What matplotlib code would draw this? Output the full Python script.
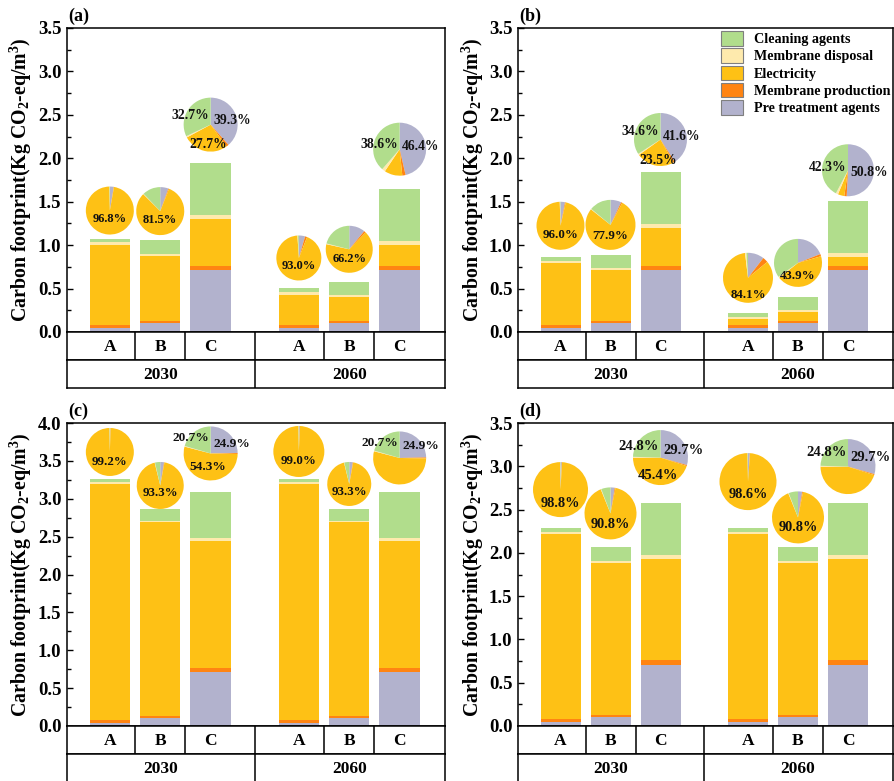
import numpy as np
import matplotlib.pyplot as plt
from matplotlib.patches import Patch
from matplotlib.ticker import MultipleLocator, FormatStrFormatter

plt.rcParams['font.family'] = ['Liberation Serif', 'DejaVu Serif']
plt.rcParams['font.weight'] = 'bold'
plt.rcParams['mathtext.fontset'] = 'custom'
plt.rcParams['mathtext.rm'] = 'Liberation Serif:bold'
plt.rcParams['mathtext.it'] = 'Liberation Serif:italic:bold'
plt.rcParams['mathtext.bf'] = 'Liberation Serif:bold'

# ---- data ----
categories = ['A', 'B', 'C', 'A', 'B', 'C']
years = ['2030', '2060']
sources = ['Pre treatment agents', 'Membrane production', 'Electricity',
           'Membrane disposal', 'Cleaning agents']
colors = ['#B2B2CD', '#FF8412', '#FEC115', '#FEEAAD', '#B1DD8C']

# components that do not change between scenarios (A, B, C)
pre_treatment = [0.045, 0.10, 0.71]
membrane_production = [0.04, 0.03, 0.05]
membrane_disposal = [0.026, 0.023, 0.045]
cleaning_agents = [0.045, 0.155, 0.60]

# electricity per panel (2030 A,B,C then 2060 A,B,C)
elec_a = [0.92, 0.75, 0.545, 0.345, 0.27, 0.245]
elec_b = [0.71, 0.58, 0.437, 0.065, 0.096, 0.10]
elec_c = [3.105, 2.557, 1.678, 3.105, 2.557, 1.678]
elec_d = [2.13, 1.755, 1.17, 2.13, 1.755, 1.17]

# pie shares in % : pre, production, electricity, disposal, cleaning
pie_a = [[2.6, 0.2, 96.8, 0.1, 0.3], [5.5, 0.5, 81.5, 0.3, 12.2],
         [39.3, 1.5, 27.7, 0.8, 32.7], [4.5, 1.5, 93.0, 0.3, 0.7],
         [11.0, 1.3, 66.2, 0.5, 21.0], [46.4, 2.0, 11.0, 2.0, 38.6]]
pie_b = [[3.0, 0.5, 96.0, 0.2, 0.3], [7.0, 0.8, 77.9, 0.3, 14.0],
         [41.6, 1.0, 23.5, 0.8, 34.6], [10.5, 3.5, 84.1, 0.9, 1.0],
         [19.0, 1.5, 43.9, 0.8, 34.8], [50.8, 1.5, 4.0, 1.4, 42.3]]
pie_c = [[0.4, 0.1, 99.2, 0.1, 0.2], [2.6, 0.3, 93.3, 0.2, 3.6],
         [24.9, 0.6, 54.3, 0.4, 20.7], [0.6, 0.1, 99.0, 0.1, 0.2],
         [2.6, 0.3, 93.3, 0.2, 3.6], [24.9, 0.6, 54.3, 0.4, 20.7]]
pie_d = [[0.8, 0.1, 98.8, 0.1, 0.2], [2.6, 0.5, 90.8, 0.3, 5.8],
         [29.7, 0.6, 45.4, 0.5, 24.8], [1.0, 0.1, 98.6, 0.1, 0.2],
         [2.6, 0.5, 90.8, 0.3, 5.8], [29.7, 0.6, 45.4, 0.5, 24.8]]

# ---- layout ----
W, H = 894, 781
xpos = np.array([1, 2, 3, 4.75, 5.75, 6.75])
panels = [
    dict(tag='(a)', box=(67, 28, 445, 332), elec=elec_a, ymax=3.5, pies=pie_a,
         diam=[48, 48, 54, 45, 47, 53], gap=[4, 5, 11, 8, 9, 13],
         ab_dy=[-0.35, -0.35, -0.74, -0.36, -0.4, None], c_dy=[(0.32, 0.15), (0.17, 0.10)],
         fs_ab=9.0, fs_c=9.8),
    dict(tag='(b)', box=(518, 28, 893, 332), elec=elec_b, ymax=3.5, pies=pie_b,
         diam=[48, 50, 53, 50, 48, 52], gap=[7, 5, 6, 10, 10, 5],
         ab_dy=[-0.37, -0.45, -0.78, -0.68, -0.53, None], c_dy=[(0.29, 0.10), (0.12, -0.10)],
         fs_ab=9.3, fs_c=9.8),
    dict(tag='(c)', box=(67, 423, 445, 726), elec=elec_c, ymax=4.0, pies=pie_c,
         diam=[48, 47, 54, 51, 44, 53], gap=[3, 0, 12, 2, 3, 8],
         ab_dy=[-0.4, -0.34, -0.5, -0.38, -0.36, None], c_dy=[(0.58, 0.36), (0.56, 0.44)],
         fs_ab=9.3, fs_c=9.6),
    dict(tag='(d)', box=(518, 423, 893, 726), elec=elec_d, ymax=3.5, pies=pie_d,
         diam=[55, 52, 55, 57, 52, 55], gap=[11, 8, 18, 18, 4, 9],
         ab_dy=[-0.5, -0.42, -0.64, -0.47, -0.39, None], c_dy=[(0.39, 0.27), (0.51, 0.33)],
         fs_ab=10.3, fs_c=10.5),
]

fig = plt.figure(figsize=(W / 100, H / 100), dpi=100)


def px_axes(l, t, r, b):
    return fig.add_axes([l / W, 1 - b / H, (r - l) / W, (b - t) / H])


def style_box(a):
    for s in a.spines.values():
        s.set_linewidth(1.1)
        s.set_color('black')


for p in panels:
    l, t, r, b = p['box']
    ax = px_axes(l, t, r, b)
    stacks = [pre_treatment * 2, membrane_production * 2, p['elec'],
              membrane_disposal * 2, cleaning_agents * 2]
    bottom = np.zeros(6)
    for vals, col in zip(stacks, colors):
        ax.bar(xpos, vals, width=0.8, bottom=bottom, color=col, linewidth=0)
        bottom += np.array(vals)
    ax.set_xlim(0.15, 7.65)
    ax.set_ylim(0, p['ymax'])
    ax.set_xticks([])
    ax.yaxis.set_major_locator(MultipleLocator(0.5))
    ax.yaxis.set_minor_locator(MultipleLocator(0.25))
    ax.yaxis.set_major_formatter(FormatStrFormatter('%.1f'))
    ax.tick_params(axis='y', which='major', direction='in', length=4, width=1,
                   labelsize=13.5, pad=4)
    ax.tick_params(axis='y', which='minor', direction='in', length=3, width=1)
    style_box(ax)
    ax.set_ylabel('Carbon footprint(Kg CO$_2$-eq/m$^3$)', fontsize=14.3, fontweight='bold')
    ax.yaxis.set_label_coords(-0.086, 0.5)
    ax.text(0.003, 1.01, p['tag'], transform=ax.transAxes, fontsize=13,
            fontweight='bold', va='bottom', ha='left')

    # category / year rows under the axis
    row1 = px_axes(l, b, r, b + 28)
    row2 = px_axes(l, b + 28, r, b + 56)
    for rw in (row1, row2):
        rw.set_xlim(0.15, 7.65)
        rw.set_ylim(0, 1)
        rw.set_xticks([])
        rw.set_yticks([])
        style_box(rw)
    for xd in (xpos[:-1] + xpos[1:]) / 2:
        row1.axvline(xd, color='black', lw=1.1)
    row2.axvline((xpos[2] + xpos[3]) / 2, color='black', lw=1.1)
    for x, c in zip(xpos, categories):
        row1.text(x, 0.45, c, ha='center', va='center', fontsize=12.5, fontweight='bold')
    for k, yr in enumerate(years):
        row2.text(xpos[3 * k + 1], 0.45, yr, ha='center', va='center',
                  fontsize=12.5, fontweight='bold')

    # pies above each bar
    for i in range(6):
        xd, yd = ax.transData.transform((xpos[i], bottom[i]))
        rad = p['diam'][i] / 2
        cy = yd + p['gap'][i] + rad
        pax = fig.add_axes([(xd - rad) / W, (cy - rad) / H, 2 * rad / W, 2 * rad / H])
        vals = p['pies'][i]
        pax.pie(vals, colors=colors, startangle=90, counterclock=False,
                wedgeprops=dict(linewidth=0))
        pax.set_xlim(-1, 1)
        pax.set_ylim(-1, 1)
        pax.set_axis_off()
        if i % 3 < 2:
            pax.text(0, p['ab_dy'][i], '%.1f%%' % vals[2], ha='center', va='center',
                     fontsize=p['fs_ab'], fontweight='bold', color='#111111')
        else:
            dy_clean, dy_pre = p['c_dy'][i // 3]
            pax.text(-0.06, dy_clean, '%.1f%%' % vals[4], ha='right', va='center',
                     fontsize=p['fs_c'], fontweight='bold', color='#111111')
            pax.text(0.1, dy_pre, '%.1f%%' % vals[0], ha='left', va='center',
                     fontsize=p['fs_c'], fontweight='bold', color='#111111')
            if i == 2:
                pax.text(-0.1, p['ab_dy'][i], '%.1f%%' % vals[2], ha='center', va='center',
                         fontsize=p['fs_c'], fontweight='bold', color='#111111')

    if p['tag'] == '(b)':
        handles = [Patch(facecolor=colors[k], edgecolor='#7f7f7f', linewidth=0.8,
                         label=sources[k]) for k in range(4, -1, -1)]
        ax.legend(handles=handles, loc='upper left', bbox_to_anchor=(721 / W, 1 - 31 / H),
                  bbox_transform=fig.transFigure, frameon=False, fontsize=10.2,
                  handlelength=1.55, handleheight=1.2, handletextpad=0.8,
                  labelspacing=0.16, borderpad=0, borderaxespad=0)

fig.savefig('out.png', dpi=100)
